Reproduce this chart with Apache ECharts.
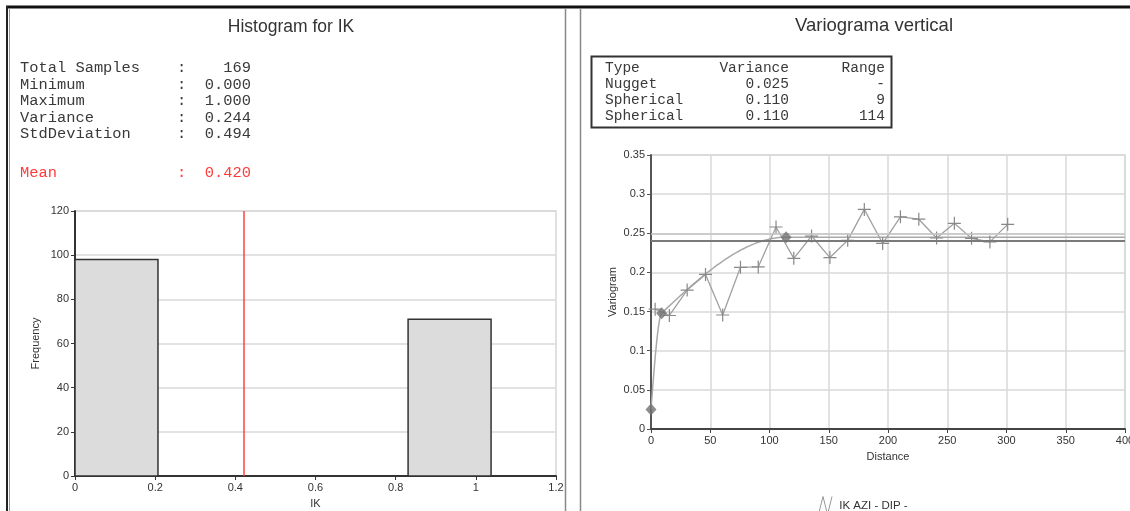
<!DOCTYPE html>
<html>
<head>
<meta charset="utf-8">
<script src="https://cdn.jsdelivr.net/npm/echarts@6/dist/echarts.min.js"></script>
<style>
  html, body { margin: 0; padding: 0; background: #fff; }
  #chart { width: 1130px; height: 511px; }
</style>
</head>
<body>
<div id="chart"></div>
<script>
// ---- Histogram of the IK indicator ----
const histBinStart = [0, 0.831];
const histBinEnd   = [0.207, 1.038];
const histCounts   = [98, 71];
const histMean     = 0.420;
const statLabels   = ['Total Samples', 'Minimum', 'Maximum', 'Variance', 'StdDeviation'];
const statValues   = ['169', '0.000', '1.000', '0.244', '0.494'];
const histXTicks   = { min: 0, max: 1.2, step: 0.2 };
const histYTicks   = { min: 0, max: 120, step: 20 };

// ---- Experimental vertical variogram ----
const lagDistance = [3.5, 15.5, 30.5, 46, 60.5, 75.5, 90.5, 105.5, 120.5, 135.5, 151, 166, 180, 195.5, 210.5, 226, 241, 256, 270.5, 286, 301];
const lagGamma    = [0.153, 0.145, 0.1775, 0.1975, 0.1456, 0.2065, 0.207, 0.258, 0.218, 0.2465, 0.219, 0.241, 0.2805, 0.237, 0.271, 0.268, 0.244, 0.2627, 0.2435, 0.239, 0.2614];
const variogramName = 'IK AZI - DIP -';

// ---- Fitted variogram model ----
const modelTypes    = ['Nugget', 'Spherical', 'Spherical'];
const modelVariance = [0.025, 0.110, 0.110];
const modelRange    = [null, 9, 114];
const refVariance   = 0.25;
const varioXTicks   = { min: 0, max: 400, step: 50 };
const varioYTicks   = { min: 0, max: 0.35, step: 0.05 };

// nested nugget + spherical structures
function modelGamma(h) {
  let g = 0;
  modelTypes.forEach((t, i) => {
    if (t === 'Nugget') { g += modelVariance[i]; return; }
    const r = Math.min(h / modelRange[i], 1);
    g += modelVariance[i] * (1.5 * r - 0.5 * r * r * r);
  });
  return g;
}
const sill = modelVariance.reduce((a, b) => a + b, 0);
const modelCurve = [];
for (let h = 0; h <= varioXTicks.max; h += (h < 20 ? 0.5 : 2)) modelCurve.push([h, modelGamma(h)]);
const structurePoints = [0].concat(modelRange.filter(r => r != null)).map(h => [h, modelGamma(h)]);

const mono = "'Liberation Mono', 'DejaVu Sans Mono', monospace";
const sans = "'Liberation Sans', Arial, sans-serif";
const axisText = { color: '#333', fontFamily: sans, fontSize: 11 };

// summary statistics block
const statFont = '15.4px ' + mono;
const statGraphics = statLabels.map((lab, i) => ({
  type: 'text', x: 20, y: 68 + i * 16.5,
  style: { text: lab.padEnd(17) + ':' + statValues[i].padStart(7), font: statFont, fill: '#3a3a3a', textVerticalAlign: 'middle' }
}));
statGraphics.push({
  type: 'text', x: 20, y: 173,
  style: { text: 'Mean'.padEnd(17) + ':' + histMean.toFixed(3).padStart(7), font: statFont, fill: '#ff3b3b', textVerticalAlign: 'middle' }
});

// model parameter table
const tableRows = [['Type', 'Variance', 'Range']].concat(
  modelTypes.map((t, i) => [t, modelVariance[i].toFixed(3), modelRange[i] == null ? '-' : String(modelRange[i])])
);
const tableFont = '14.5px ' + mono;
const tableGraphics = [];
tableRows.forEach((row, i) => {
  const y = 68 + i * 16;
  tableGraphics.push({ type: 'text', x: 605, y: y, style: { text: row[0], font: tableFont, fill: '#3a3a3a', textVerticalAlign: 'middle' } });
  tableGraphics.push({ type: 'text', x: 789, y: y, style: { text: row[1], font: tableFont, fill: '#3a3a3a', textAlign: 'right', textVerticalAlign: 'middle' } });
  tableGraphics.push({ type: 'text', x: 885, y: y, style: { text: row[2], font: tableFont, fill: '#3a3a3a', textAlign: 'right', textVerticalAlign: 'middle' } });
});

const chart = echarts.init(document.getElementById('chart'), null, { renderer: 'canvas' });

const crossSymbol = 'path://M0,6 L12,6 M6,0 L6,12';
const zigzagIcon = 'path://M0,20 L5,0 L10,20 L15,0';

chart.setOption({
  animation: false,
  backgroundColor: '#fff',
  graphic: [
    // page frame and panel dividers
    { type: 'line', shape: { x1: 6, y1: 7, x2: 1130, y2: 7 }, style: { stroke: '#111', lineWidth: 3 } },
    { type: 'line', shape: { x1: 7, y1: 6, x2: 7, y2: 511 }, style: { stroke: '#222', lineWidth: 2 } },
    { type: 'line', shape: { x1: 9.5, y1: 8, x2: 9.5, y2: 511 }, style: { stroke: '#999', lineWidth: 1 } },
    { type: 'line', shape: { x1: 565.5, y1: 8, x2: 565.5, y2: 511 }, style: { stroke: '#888', lineWidth: 1.5 } },
    { type: 'line', shape: { x1: 580.5, y1: 8, x2: 580.5, y2: 511 }, style: { stroke: '#888', lineWidth: 1.5 } },
    // panel titles
    { type: 'text', x: 291, y: 27, style: { text: 'Histogram for IK', font: '17.5px ' + sans, fill: '#333', textAlign: 'center', textVerticalAlign: 'middle' } },
    { type: 'text', x: 874, y: 26, style: { text: 'Variograma vertical', font: '18.5px ' + sans, fill: '#333', textAlign: 'center', textVerticalAlign: 'middle' } },
    // table box
    { type: 'rect', shape: { x: 591.5, y: 56.5, width: 300, height: 71 }, style: { fill: 'none', stroke: '#333', lineWidth: 2 } }
  ].concat(statGraphics, tableGraphics),
  legend: {
    left: 816, top: 494,
    padding: 0,
    itemWidth: 18, itemHeight: 18, itemGap: 4,
    textStyle: { color: '#333', fontFamily: sans, fontSize: 11.5 },
    data: [{ name: variogramName, icon: zigzagIcon, itemStyle: { color: 'none', borderColor: '#999', borderWidth: 1 } }]
  },
  grid: [
    { left: 75, top: 211, width: 481, height: 265, show: true, borderColor: '#d8d8d8', borderWidth: 1.5, outerBoundsMode: 'none', containLabel: false },
    { left: 651, top: 155, width: 474, height: 274, show: true, borderColor: '#d8d8d8', borderWidth: 1.5, outerBoundsMode: 'none', containLabel: false }
  ],
  xAxis: [
    {
      gridIndex: 0, type: 'value', min: histXTicks.min, max: histXTicks.max, interval: histXTicks.step,
      name: 'IK', nameLocation: 'middle', nameGap: 22, nameTextStyle: axisText,
      axisLine: { lineStyle: { color: '#333', width: 2 } },
      axisTick: { length: 4, lineStyle: { color: '#333' } },
      axisLabel: Object.assign({ margin: 6 }, axisText),
      splitLine: { show: false }
    },
    {
      gridIndex: 1, type: 'value', min: varioXTicks.min, max: varioXTicks.max, interval: varioXTicks.step,
      name: 'Distance', nameLocation: 'middle', nameGap: 22, nameTextStyle: axisText,
      axisLine: { lineStyle: { color: '#444', width: 2 } },
      axisTick: { length: 4, lineStyle: { color: '#444' } },
      axisLabel: Object.assign({ margin: 6 }, axisText),
      splitLine: { show: true, lineStyle: { color: '#d8d8d8', width: 1.5 } }
    }
  ],
  yAxis: [
    {
      gridIndex: 0, type: 'value', min: histYTicks.min, max: histYTicks.max, interval: histYTicks.step,
      name: 'Frequency', nameLocation: 'middle', nameGap: 34, nameTextStyle: axisText,
      axisLine: { show: true, lineStyle: { color: '#333', width: 2 } },
      axisTick: { show: true, length: 4, lineStyle: { color: '#333' } },
      axisLabel: Object.assign({ margin: 6 }, axisText),
      splitLine: { show: true, lineStyle: { color: '#d8d8d8', width: 1.5 } }
    },
    {
      gridIndex: 1, type: 'value', min: varioYTicks.min, max: varioYTicks.max, interval: varioYTicks.step,
      name: 'Variogram', nameLocation: 'middle', nameGap: 33, nameTextStyle: axisText,
      axisLine: { show: true, lineStyle: { color: '#555', width: 2 } },
      axisTick: { show: true, length: 4, lineStyle: { color: '#555' } },
      axisLabel: Object.assign({ margin: 6 }, axisText),
      splitLine: { show: true, lineStyle: { color: '#d8d8d8', width: 1.5 } }
    }
  ],
  series: [
    {
      name: 'Histogram', type: 'custom', xAxisIndex: 0, yAxisIndex: 0,
      data: histCounts.map((c, i) => [histBinStart[i], histBinEnd[i], c]),
      encode: { x: [0, 1], y: 2 },
      renderItem: function (params, api) {
        const p0 = api.coord([api.value(0), 0]);
        const p1 = api.coord([api.value(1), api.value(2)]);
        return {
          type: 'rect',
          shape: { x: p0[0], y: p1[1], width: p1[0] - p0[0], height: p0[1] - p1[1] },
          style: { fill: '#dcdcdc', stroke: '#333', lineWidth: 1.5 }
        };
      },
      markLine: {
        silent: true, symbol: 'none', label: { show: false },
        lineStyle: { color: '#ff4040', width: 1.5, type: 'solid' },
        data: [{ xAxis: histMean }]
      }
    },
    {
      name: 'Model', type: 'line', xAxisIndex: 1, yAxisIndex: 1,
      data: modelCurve, showSymbol: false, smooth: false, silent: true,
      lineStyle: { color: '#a8a8a8', width: 1.5 },
      markLine: {
        silent: true, symbol: 'none', label: { show: false },
        data: [
          { yAxis: refVariance, lineStyle: { color: '#c4c4c4', width: 1.5, type: 'solid' } },
          { yAxis: sill, lineStyle: { color: '#7a7a7a', width: 2, type: 'solid' } }
        ]
      }
    },
    {
      name: variogramName, type: 'line', xAxisIndex: 1, yAxisIndex: 1,
      data: lagDistance.map((d, i) => [d, lagGamma[i]]),
      symbol: crossSymbol, symbolSize: [13, 13], showAllSymbol: true,
      lineStyle: { color: '#a0a0a0', width: 1.3 },
      itemStyle: { color: '#888', borderColor: '#888', borderWidth: 1.2 }
    },
    {
      name: 'Structures', type: 'scatter', xAxisIndex: 1, yAxisIndex: 1,
      data: structurePoints, symbol: 'diamond', symbolSize: [11, 12],
      itemStyle: { color: '#707070' }, z: 5
    }
  ]
});
</script>
</body>
</html>
